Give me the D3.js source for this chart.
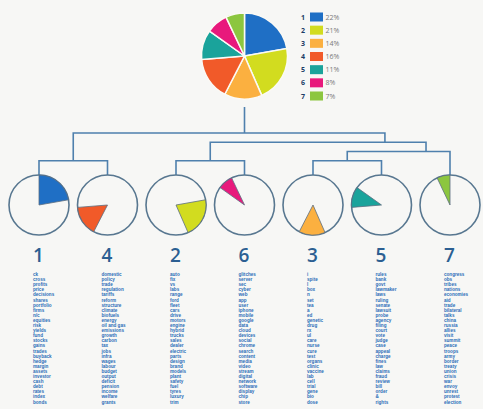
<!DOCTYPE html>
<html><head><meta charset="utf-8">
<script src="https://cdn.jsdelivr.net/npm/d3@7"></script>
<style>
html,body{margin:0;padding:0;background:#f7f7f5;}
svg{display:block;}
</style></head>
<body>
<svg id="chart" width="483" height="409"></svg>
<script>
// ---- data ----
const clusters = ["1", "2", "3", "4", "5", "6", "7"];
const shares = [22, 21, 14, 16, 11, 8, 7];
const shareLabels = ["22%", "21%", "14%", "16%", "11%", "8%", "7%"];
const colors = ["#1f6fc5", "#d2dc1f", "#fbb040", "#f15a29", "#1aa39b", "#e8197c", "#8cc63f"];
const leafOrder = ["1", "4", "2", "6", "3", "5", "7"];
// dendrogram merges: height level, position in leaf-index units
const mergeIds = ["A", "B", "C", "D", "E", "root"];
const mergeChildren = [["1", "4"], ["2", "6"], ["3", "5"], ["C", "7"], ["B", "D"], ["A", "E"]];
const mergeHeights = [1, 1, 1, 2, 3, 4];
const mergePos = [0.5, 2.5, 4.5, 5.65, 5.05, 3];
// term lists per cluster (illegible in source; representative terms)
const terms = {
  "1": ["ck","cross","profits","price","decisions","shares","portfolio","firms","n/c","equities","risk","yields","fund","stocks","gains","trades","buyback","hedge","margin","assets","investor","cash","debt","rates","index","bonds"],
  "4": ["domestic","policy","trade","regulation","tariffs","reform","structure","climate","biofuels","energy","oil and gas","emissions","growth","carbon","tax","jobs","infra","wages","labour","budget","output","deficit","pension","income","welfare","grants"],
  "2": ["auto","fix","vs","labs","range","ford","fleet","cars","drive","motors","engine","hybrid","trucks","sales","dealer","electric","parts","design","brand","models","plant","safety","fuel","tyres","luxury","trim"],
  "6": ["glitches","server","sec","cyber","web","app","user","iphone","mobile","google","data","cloud","devices","social","chrome","search","content","media","video","stream","digital","network","software","display","chip","store"],
  "3": ["i","spite","l","box","n","set","tea","a","ed","genetic","drug","rx","ul","care","nurse","cure","test","organs","clinic","vaccine","lab","cell","trial","gene","bio","dose"],
  "5": ["rules","bank","govt","lawmaker","laws","ruling","senate","lawsuit","probe","agency","filing","court","vote","judge","case","appeal","charge","fines","law","claims","fraud","review","bill","order","&","rights"],
  "7": ["congress","obs","tribes","nations","economies","aid","trade","bilateral","talks","china","russia","allies","visit","summit","peace","troops","army","border","treaty","union","crisis","war","envoy","unrest","protest","election"]
};

// ---- layout ----
const svg = d3.select("#chart");
const pieCenter = {x: 244.5, y: 56};
const pieR = 43;
const leafX = d3.scalePoint().domain(d3.range(leafOrder.length)).range([39, 450]);
const idxX = d3.scaleLinear().domain([0, leafOrder.length - 1]).range([39, 450]);
const levelY = d3.scaleLinear().domain([0, 4]).range([170, 133]);
const smallR = 30;
const smallCy = 205;
const lineColor = "#4f80ad";

const pie = d3.pie().sort(null).value(d => d)(shares);

// big pie
const bigArc = d3.arc().innerRadius(0).outerRadius(pieR);
svg.append("g").attr("transform", `translate(${pieCenter.x},${pieCenter.y})`)
  .selectAll("path").data(pie).join("path")
  .attr("d", bigArc)
  .attr("fill", (d, i) => colors[i])
  .attr("stroke", "#fbfaf5").attr("stroke-width", 1.5);

// legend
const legY = d3.scalePoint().domain(clusters).range([17, 96]);
const leg = svg.append("g");
clusters.forEach((c, i) => {
  const y = legY(c);
  leg.append("text").attr("x", 303).attr("y", y + 2.5).attr("text-anchor", "middle")
    .attr("font-family", "Open Sans, sans-serif").attr("font-size", 7).attr("font-weight", "bold")
    .attr("fill", "#1d3d66").text(c);
  leg.append("rect").attr("x", 310).attr("y", y - 4.5).attr("width", 13).attr("height", 9)
    .attr("fill", colors[i]);
  leg.append("text").attr("x", 325.5).attr("y", y + 2.5)
    .attr("font-family", "Open Sans, sans-serif").attr("font-size", 7)
    .attr("fill", "#7a7a7a").text(shareLabels[i]);
});

// dendrogram
const nodeX = {}, nodeY = {};
leafOrder.forEach((c, i) => { nodeX[c] = leafX(i); nodeY[c] = smallCy - smallR; });
mergeIds.forEach((id, i) => { nodeX[id] = idxX(mergePos[i]); nodeY[id] = levelY(mergeHeights[i]); });
const dg = svg.append("g").attr("fill", "none").attr("stroke", lineColor).attr("stroke-width", 1.6);
mergeIds.forEach((id, i) => {
  const [a, b] = mergeChildren[i];
  const y = nodeY[id];
  dg.append("path").attr("d", `M${nodeX[a]},${nodeY[a]}V${y}H${nodeX[b]}V${nodeY[b]}`);
});
dg.append("line").attr("x1", nodeX.root).attr("x2", nodeX.root)
  .attr("y1", pieCenter.y + pieR + 8).attr("y2", nodeY.root);

// small pies
const smallArc = d3.arc().innerRadius(0).outerRadius(smallR);
leafOrder.forEach((c, i) => {
  const ci = clusters.indexOf(c);
  const g = svg.append("g").attr("transform", `translate(${leafX(i)},${smallCy})`);
  g.append("circle").attr("r", smallR).attr("fill", "#f7f7f5")
    .attr("stroke", "#587790").attr("stroke-width", 1.6);
  g.append("path").attr("d", smallArc(pie[ci]))
    .attr("fill", colors[ci]).attr("stroke", "#5d6f80").attr("stroke-width", 0.8);
  // cluster label
  const lx = leafX(i) - 6;
  svg.append("text").attr("x", lx).attr("y", 262)
    .attr("font-family", "Open Sans, sans-serif").attr("font-size", 19).attr("font-weight", 600)
    .attr("fill", "#2c5f92").text(c);
  const tg = svg.append("g").attr("font-family", "Liberation Sans, Arial, sans-serif")
    .attr("font-size", 4.6).attr("font-weight", "bold").attr("fill", "#2a6db8");
  terms[c].forEach((w, k) => {
    tg.append("text").attr("x", lx).attr("y", 276 + k * 5.1).text(w);
  });
});
</script>
</body></html>
